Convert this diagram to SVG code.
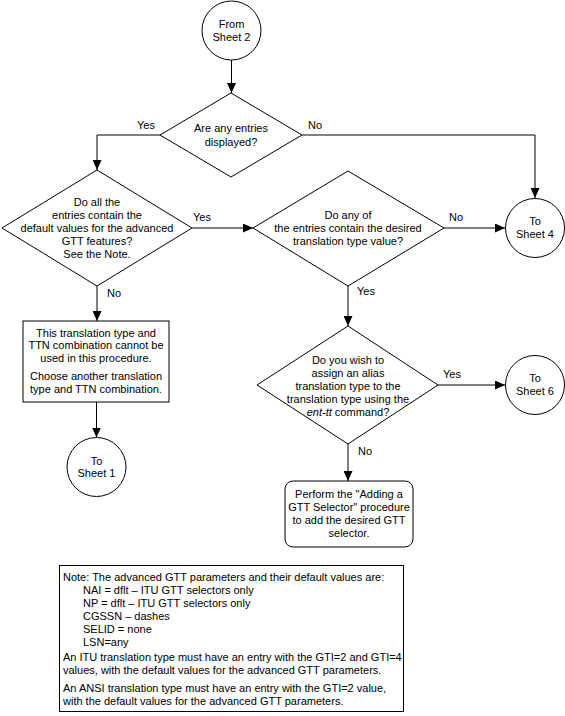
<svg xmlns="http://www.w3.org/2000/svg" width="565" height="716" viewBox="0 0 565 716">
<defs>
<style>
.s{fill:#fff;stroke:#000;stroke-width:1}
.c{fill:none;stroke:#000;stroke-width:1}
text{font-family:"Liberation Sans",Arial,sans-serif;font-size:11px;fill:#000}
.m{text-anchor:middle}
</style>
<marker id="a" markerUnits="userSpaceOnUse" markerWidth="10" markerHeight="9" refX="10" refY="4.5" orient="auto">
<path d="M0,0 L10,4.5 L0,9 z" fill="#000"/>
</marker>
</defs>
<rect width="565" height="716" fill="#fff"/>
<g id="connectors">
<path class="c" d="M231.5,60 V93" marker-end="url(#a)"/>
<path class="c" d="M160,135 H97 V170" marker-end="url(#a)"/>
<path class="c" d="M302,135 H535 V198" marker-end="url(#a)"/>
<path class="c" d="M192,228 H253" marker-end="url(#a)"/>
<path class="c" d="M97,286 V321" marker-end="url(#a)"/>
<path class="c" d="M444,228 H505" marker-end="url(#a)"/>
<path class="c" d="M348,286 V326" marker-end="url(#a)"/>
<path class="c" d="M438,385 H505" marker-end="url(#a)"/>
<path class="c" d="M348,444 V481" marker-end="url(#a)"/>
<path class="c" d="M96.5,402 V437.5" marker-end="url(#a)"/>
<text x="137" y="129">Yes</text>
<text x="308" y="129">No</text>
<text x="193" y="221">Yes</text>
<text x="107" y="297">No</text>
<text x="449" y="221">No</text>
<text x="357" y="295">Yes</text>
<text x="443" y="378">Yes</text>
<text x="358" y="455">No</text>
</g>
<g id="from-sheet-2">
<circle class="s" cx="231.5" cy="30.5" r="29.5"/>
<text class="m" x="231.5" y="28">From</text>
<text class="m" x="231.5" y="41">Sheet 2</text>
</g>
<g id="entries-displayed">
<polygon class="s" points="231,93 302,135 231,177 160,135"/>
<text class="m" x="231" y="132">Are any entries</text>
<text class="m" x="231" y="146">displayed?</text>
</g>
<g id="default-values">
<polygon class="s" points="97,170 192,228 97,286 2,228"/>
<text class="m" x="97" y="206">Do all the</text>
<text class="m" x="97" y="219">entries contain the</text>
<text class="m" x="97" y="232">default values for the advanced</text>
<text class="m" x="97" y="245">GTT features?</text>
<text class="m" x="97" y="258">See the Note.</text>
</g>
<g id="desired-tt">
<polygon class="s" points="348,171 444,228 348,286 253,228"/>
<text class="m" x="348" y="219">Do any of</text>
<text class="m" x="348" y="232">the entries contain the desired</text>
<text class="m" x="348" y="245">translation type value?</text>
</g>
<g id="to-sheet-4">
<circle class="s" cx="535" cy="228" r="29.5"/>
<text class="m" x="535" y="225">To</text>
<text class="m" x="535" y="238">Sheet 4</text>
</g>
<g id="cannot-use">
<rect class="s" x="23" y="321" width="146" height="81"/>
<text class="m" x="96" y="337">This translation type and</text>
<text class="m" x="96" y="349">TTN combination cannot be</text>
<text class="m" x="96" y="362">used in this procedure.</text>
<text class="m" x="96" y="380">Choose another translation</text>
<text class="m" x="96" y="393">type and TTN combination.</text>
</g>
<g id="to-sheet-1">
<circle class="s" cx="96.5" cy="467" r="29.5"/>
<text class="m" x="96.5" y="465">To</text>
<text class="m" x="96.5" y="477">Sheet 1</text>
</g>
<g id="alias-tt">
<polygon class="s" points="348,326 438,385 348,444 257,385"/>
<text class="m" x="348" y="364">Do you wish to</text>
<text class="m" x="348" y="377">assign an alias</text>
<text class="m" x="348" y="390">translation type to the</text>
<text class="m" x="348" y="403">translation type using the</text>
<text class="m" x="348" y="416"><tspan font-style="italic">ent-tt</tspan> command?</text>
</g>
<g id="to-sheet-6">
<circle class="s" cx="535" cy="385" r="29.5"/>
<text class="m" x="535" y="382">To</text>
<text class="m" x="535" y="395">Sheet 6</text>
</g>
<g id="gtt-selector">
<rect class="s" x="285" y="481" width="128" height="66" rx="8"/>
<text class="m" x="349" y="498">Perform the "Adding a</text>
<text class="m" x="349" y="511">GTT Selector" procedure</text>
<text class="m" x="349" y="524">to add the desired GTT</text>
<text class="m" x="349" y="537">selector.</text>
</g>
<g id="note">
<rect class="s" x="59.5" y="565.5" width="344" height="146"/>
<text x="63" y="581">Note: The advanced GTT parameters and their default values are:</text>
<text x="83" y="594">NAI = dflt – ITU GTT selectors only</text>
<text x="83" y="607">NP = dflt – ITU GTT selectors only</text>
<text x="83" y="620">CGSSN – dashes</text>
<text x="83" y="633">SELID = none</text>
<text x="83" y="646">LSN=any</text>
<text x="63" y="661">An ITU translation type must have an entry with the GTI=2 and GTI=4</text>
<text x="63" y="674">values, with the default values for the advanced GTT parameters.</text>
<text x="63" y="692">An ANSI translation type must have an entry with the GTI=2 value,</text>
<text x="63" y="705">with the default values for the advanced GTT parameters.</text>
</g>
</svg>
